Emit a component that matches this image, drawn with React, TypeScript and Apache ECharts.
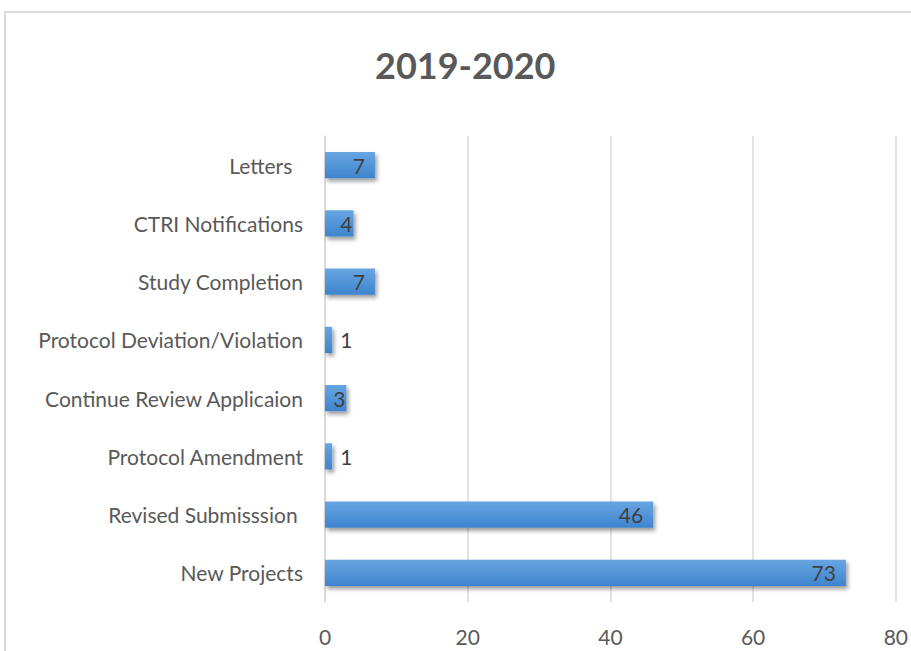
import React, { useEffect, useRef } from "react";
import * as echarts from "echarts";

const categories = [
  "New Projects",
  "Revised Submisssion ",
  "Protocol Amendment",
  "Continue Review Applicaion",
  "Protocol Deviation/Violation",
  "Study Completion",
  "CTRI Notifications",
  "Letters  ",
];
const values = [73, 46, 1, 3, 1, 7, 4, 7];
const xTicks = { min: 0, max: 80, interval: 20 };
const title = "2019-2020";

export default function App() {
  const ref = useRef<HTMLDivElement>(null);
  useEffect(() => {
    document.body.style.margin = "0";
    const chart = echarts.init(ref.current!, null, { renderer: "svg" });
    const data = values.map((v) => ({
      value: v,
      label: v <= 1
        ? { position: "right", distance: 8 }
        : { position: "insideRight", distance: v <= 4 ? 1 : 10 },
    }));
    chart.setOption({
      animation: false,
      backgroundColor: "#ffffff",
      title: {
        text: title,
        left: 370,
        top: 42,
        textStyle: {
          fontFamily: "Lato, sans-serif",
          fontWeight: "bold",
          fontSize: 36,
          color: "#595959",
        },
      },
      graphic: [
        {
          type: "rect",
          shape: { x: 5, y: 12, width: 1000, height: 1000 },
          style: { fill: "none", stroke: "#d9d9d9", lineWidth: 2 },
          silent: true,
        },
      ],
      grid: { left: 325, right: 13, top: 136, bottom: 49 },
      xAxis: {
        type: "value",
        min: xTicks.min,
        max: xTicks.max,
        interval: xTicks.interval,
        axisLine: { show: false },
        axisTick: { show: false },
        splitLine: { lineStyle: { color: "#d9d9d9", width: 1.5 } },
        axisLabel: {
          fontFamily: "Lato, sans-serif",
          fontSize: 21,
          color: "#595959",
          margin: 24,
        },
      },
      yAxis: {
        type: "category",
        data: categories,
        axisLine: { show: true, lineStyle: { color: "#d9d9d9", width: 1.5 } },
        axisTick: { show: false },
        axisLabel: {
          fontFamily: "Lato, sans-serif",
          fontSize: 21,
          color: "#595959",
          margin: 22,
        },
      },
      series: [
        {
          type: "bar",
          data,
          barWidth: "45%",
          itemStyle: {
            color: new echarts.graphic.LinearGradient(0, 0, 0, 1, [
              { offset: 0, color: "#68a5e2" },
              { offset: 1, color: "#3e85ce" },
            ]),
            shadowBlur: 4,
            shadowOffsetX: 2,
            shadowOffsetY: 3,
            shadowColor: "rgba(0,0,0,0.4)",
          },
          label: {
            show: true,
            fontFamily: "Lato, sans-serif",
            fontSize: 21,
            color: "#404040",
          },
        },
      ],
    });
    return () => chart.dispose();
  }, []);
  return (
    <div
      ref={ref}
      style={{ position: "absolute", left: 0, top: 0, width: 911, height: 651 }}
    />
  );
}
